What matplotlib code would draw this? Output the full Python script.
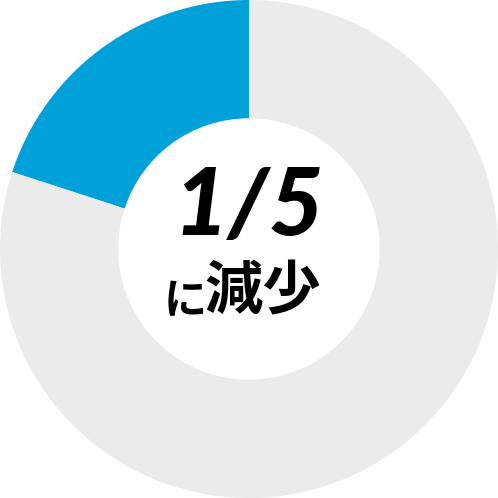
import matplotlib
matplotlib.use('Agg')
import matplotlib.pyplot as plt

# share of the reduction (1/5) vs. the rest
labels = ['reduced', 'rest']
values = [20, 80]
colors = ['#00A0D8', '#EBEBEB']

main_text = '1/5'
sub_small = 'に'
sub_big = '減少'


def main():
    fig = plt.figure(figsize=(4.98, 4.98), dpi=100)
    ax = fig.add_axes([0, 0, 1, 1])
    ax.pie(values, colors=colors, startangle=90, counterclock=True,
           radius=1.0, wedgeprops=dict(width=0.475, linewidth=0))
    ax.set_xlim(-1.0, 1.0)
    ax.set_ylim(-1.0, 1.0)
    ax.set_aspect('equal')
    ax.axis('off')

    ax.text(0.0, 0.165, main_text, ha='center', va='center', fontsize=68,
            fontweight='black', fontstyle='italic',
            family=['Lato', 'Open Sans', 'DejaVu Sans'], color='black')
    ax.text(-0.257, -0.209, sub_small, ha='center', va='center', fontsize=31,
            fontweight='bold', family=['Noto Sans CJK JP', 'DejaVu Sans'], color='black')
    ax.text(0.056, -0.173, sub_big, ha='center', va='center', fontsize=42,
            fontweight='bold', family=['Noto Sans CJK JP', 'DejaVu Sans'], color='black')

    fig.savefig('out.png', dpi=100, facecolor='white')


if __name__ == '__main__':
    main()
